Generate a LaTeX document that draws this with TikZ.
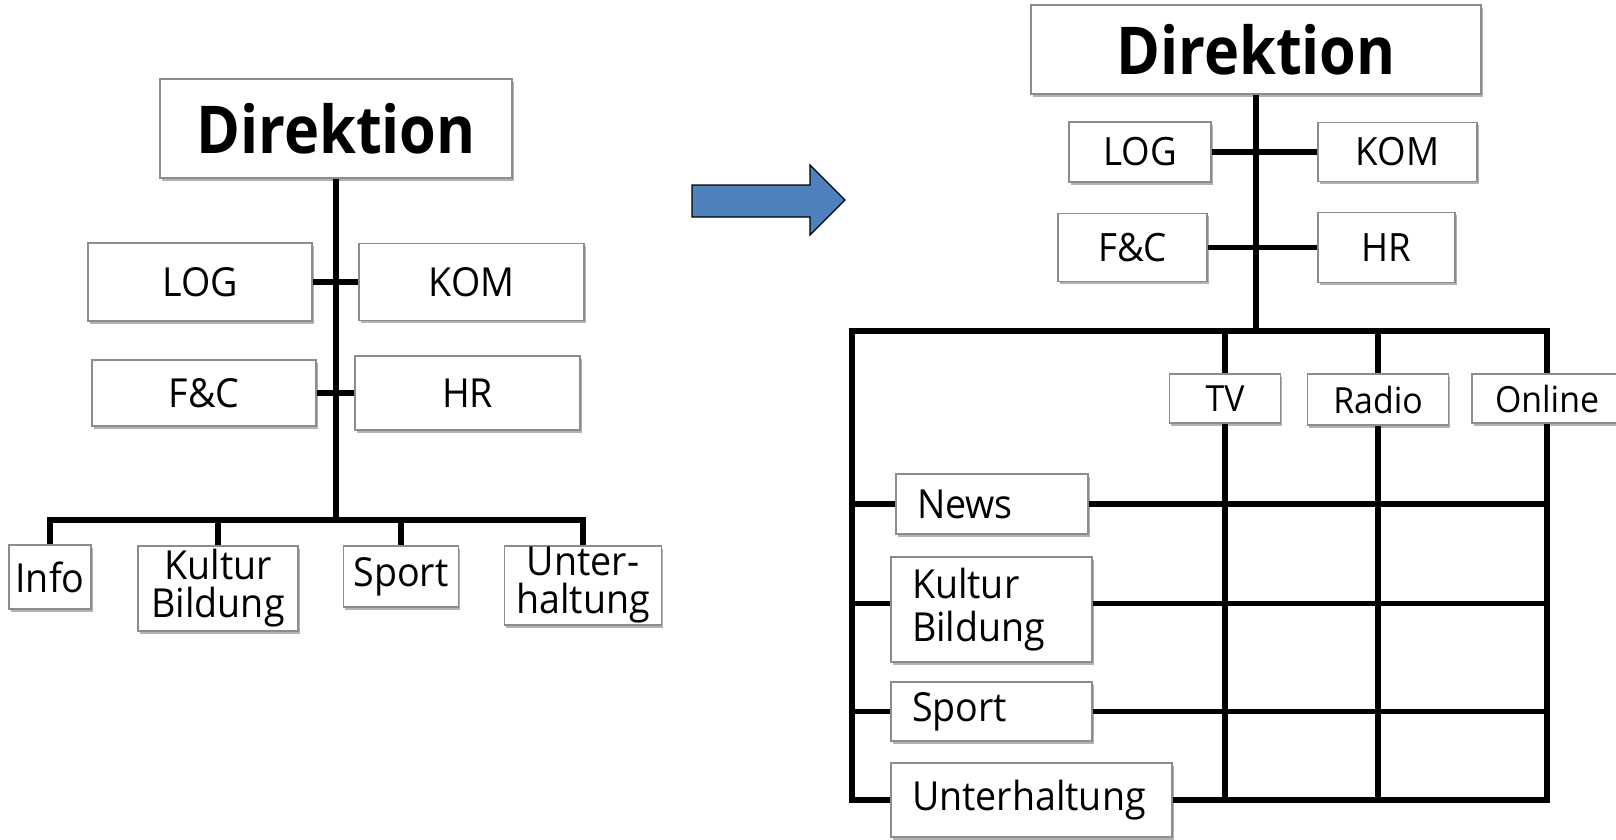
\documentclass[tikz,border=0pt]{standalone}
\usepackage{fontspec}
\setmainfont{Open Sans}[FakeStretch=0.94]
\newfontfamily\headfont{Open Sans Bold}[FakeStretch=0.9]
\usetikzlibrary{shadows,backgrounds}
\definecolor{boxline}{RGB}{140,140,140}
\definecolor{arrowblue}{RGB}{79,129,189}
\begin{document}
\begin{tikzpicture}[x=1pt,y=-1pt,
  unit box/.style={draw=boxline, line width=1.2pt, fill=white, inner sep=0pt, align=center,
    drop shadow={shadow xshift=1.5pt, shadow yshift=-2.5pt, opacity=0.3, fill=black}},
  wh/.style 2 args={minimum width=#1pt, minimum height=#2pt},
  headbox/.style={unit box, font=\headfont\fontsize{66}{70}\selectfont},
  unitL/.style={unit box, font=\fontsize{40}{38}\selectfont},
  unitR/.style={unit box, font=\fontsize{39}{43}\selectfont},
  channel/.style={unit box, font=\fontsize{36}{40}\selectfont},
  rowbox/.style={unit box, font=\fontsize{40}{43}\selectfont, align=left, inner xsep=21pt},
  conn/.style={line width=5.8pt, line cap=rect, line join=miter, draw=black},
  blockarrow/.style={fill=arrowblue, draw=black, line width=1.2pt, line join=miter}
]
\useasboundingbox (0,0) rectangle (1616,839);

% ---------- current organisation ----------
\node[headbox, wh={352}{99}] (dirL) at (336,128.5) {Direktion};
\node[unitL, wh={224}{78}] (logL) at (200,282) {LOG};
\node[unitL, wh={225}{77}] (komL) at (471.5,282) {KOM};
\node[unitL, wh={224}{66}] (fcL) at (204,393) {F\&C};
\node[unitL, wh={225}{74}] (hrL) at (467.5,393) {HR};
\node[unitL, wh={82}{64}] (infoL) at (50,577) {Info};
\node[unitL, wh={160}{85}] (kulL) at (218,588.5) {Kultur\\Bildung};
\node[unitL, wh={115}{61}] (sportL) at (401,576.5) {Sport};
\node[unitL, wh={157}{79}] (unterL) at (583,585.5) {Unter-\\haltung};
\coordinate (busL) at (336,520);

% ---------- transition arrow ----------
\draw[blockarrow] (692,185) -- (810,185) -- (810,165) -- (845,200)
  -- (810,235) -- (810,217) -- (692,217) -- cycle;

% ---------- new organisation (matrix) ----------
\node[headbox, wh={450}{89}] (dirR) at (1256,49.5) {Direktion};
\node[unitR, wh={142}{60}] (logR) at (1140,152) {LOG};
\node[unitR, wh={159}{59}] (komR) at (1397.5,152) {KOM};
\node[unitR, wh={149}{68}] (fcR) at (1132.5,247.5) {F\&C};
\node[unitR, wh={137}{70}] (hrR) at (1386.5,247.5) {HR};
\node[channel, wh={111}{49}] (tvR) at (1225,398.5) {TV};
\node[channel, wh={141}{51}] (radioR) at (1378,399.5) {Radio};
\node[channel, wh={150}{49}] (onlineR) at (1547,398.5) {Online};
\node[rowbox, text width=150pt, wh={192}{60}] (newsR) at (992,504) {News};
\node[rowbox, text width=159pt, wh={201}{105}] (kulR) at (991.5,609.5) {Kultur\\Bildung};
\node[rowbox, text width=159pt, wh={201}{59}] (sportR) at (991.5,711.5) {Sport};
\node[rowbox, text width=239pt, wh={281}{74}] (unterR) at (1031.5,800) {Unterhaltung};
\coordinate (tl) at (852,331);
\coordinate (tr) at (1547,331);
\coordinate (busR) at (1256,331);

\begin{scope}[on background layer]
  % tree lines
  \draw[conn] (dirL.south) -- (busL);
  \draw[conn] (logL.east) -- (komL.west);
  \draw[conn] (fcL.east) -- (hrL.west);
  \draw[conn] (infoL.north) |- (unterL.north |- busL) -- (unterL.north);
  \draw[conn] (kulL.north) -- (kulL.north |- busL);
  \draw[conn] (sportL.north) -- (sportL.north |- busL);

  % staff units and top bus
  \draw[conn] (dirR.south) -- (busR);
  \draw[conn] (logR.east) -- (komR.west);
  \draw[conn] (fcR.east) -- (hrR.west);
  \draw[conn] (unterR.west) -- (tl |- unterR.west) -- (tl) -- (tr) -- (onlineR.north);

  % channel columns
  \draw[conn] (tvR.north |- tl) -- (tvR.north);
  \draw[conn] (radioR.north |- tl) -- (radioR.north);
  \draw[conn] (tvR.south) -- (tvR.south |- unterR.east);
  \draw[conn] (radioR.south) -- (radioR.south |- unterR.east);
  \draw[conn] (onlineR.south) -- (onlineR.south |- unterR.east) -- (unterR.east);

  % content rows
  \draw[conn] (tl |- newsR.west) -- (newsR.west);
  \draw[conn] (newsR.east) -- (newsR.east -| tr);
  \draw[conn] (tl |- kulR.west) ++(0,-6) -- ([yshift=6pt]kulR.west);
  \draw[conn] ([yshift=6pt]kulR.east) -- ([yshift=6pt]kulR.east -| tr);
  \draw[conn] (tl |- sportR.west) -- (sportR.west);
  \draw[conn] (sportR.east) -- (sportR.east -| tr);
\end{scope}
\end{tikzpicture}
\end{document}
